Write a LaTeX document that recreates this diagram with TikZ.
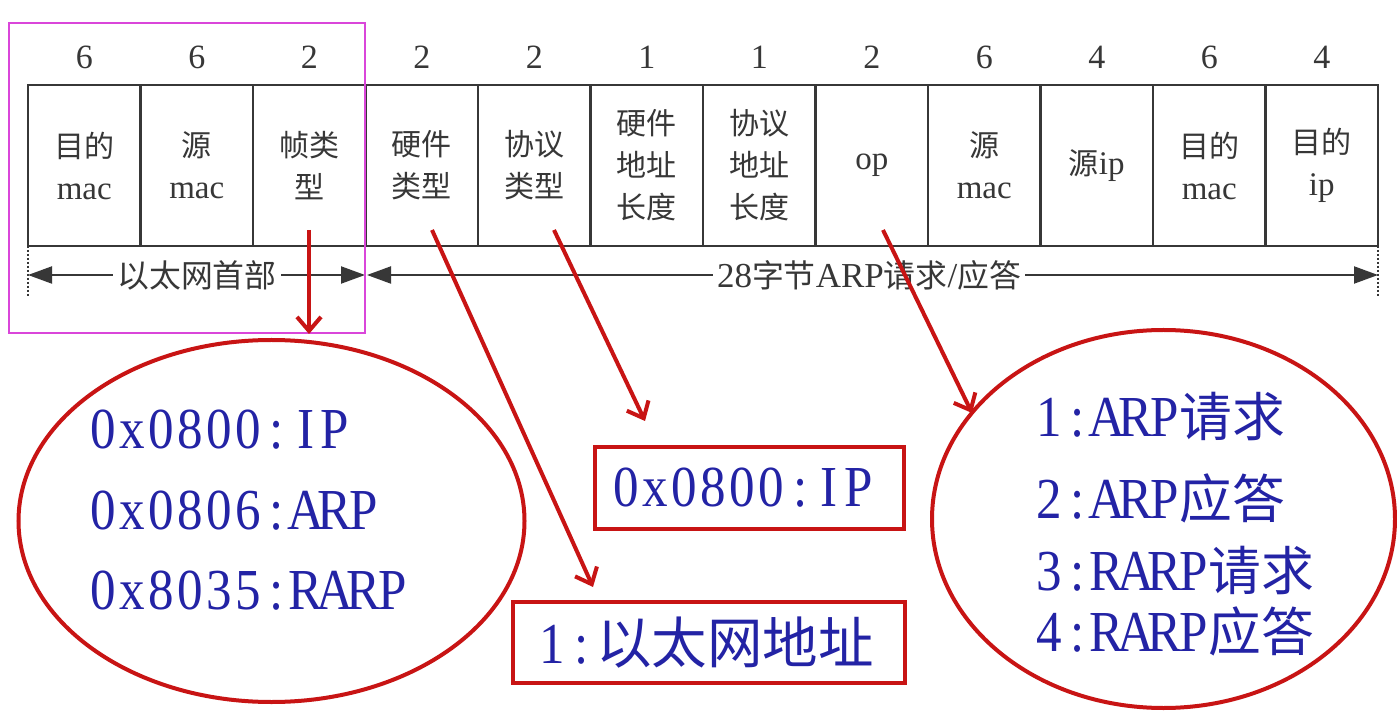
\documentclass[tikz,border=0pt]{standalone}
\usepackage{fontspec}
\setmainfont{Liberation Serif}
\newfontfamily\cjk{Noto Sans CJK SC}[Scale=0.91]
\newfontfamily\bluefont{Liberation Serif}[FakeStretch=0.88]
\usetikzlibrary{arrows.meta,shapes.geometric}
\definecolor{tblgray}{RGB}{55,55,55}
\definecolor{arpred}{RGB}{200,20,20}
\definecolor{arpblue}{RGB}{35,35,165}
\definecolor{boxmag}{RGB}{218,70,218}
\newcommand{\zh}[1]{{\cjk #1}}
\newcommand{\zhb}[1]{{\cjk\fontsize{30.5}{32}\selectfont #1}}
\makeatletter
\def\hw#1{\hw@i#1\@nil}
\def\hw@i#1{\ifx#1\@nil\else\makebox[14.5pt]{#1}\expandafter\hw@i\fi}
\makeatother
\begin{document}
\begin{tikzpicture}[x=0.5pt,y=-0.5pt,
  cell/.style={draw=tblgray, line width=1.1pt, minimum width=56.25pt, minimum height=80.5pt,
    inner sep=0pt, align=center, text=tblgray, font=\fontsize{16.5}{21}\selectfont},
  num/.style={text=tblgray, font=\fontsize{17}{20}\selectfont, inner sep=0pt},
  span/.style={line width=1pt, draw=tblgray,
    {Triangle[length=12pt,width=8.5pt]}-{Triangle[length=12pt,width=8.5pt]}},
  spanlabel/.style={fill=white, inner xsep=2pt, inner ysep=1pt, text=tblgray,
    font=\fontsize{17.5}{20}\selectfont},
  tick/.style={draw=tblgray, densely dotted, line width=1pt},
  redarrow/.style={draw=arpred, line width=2pt, -{Straight Barb[length=7pt,width=12pt]}},
  redbox/.style={draw=arpred, line width=2pt, inner sep=0pt, text=arpblue,
    font={\fontsize{29}{32}\bluefont}},
  redell/.style={ellipse, draw=arpred, line width=2pt, inner sep=0pt},
  bluetext/.style={text=arpblue, font={\fontsize{29}{32}\bluefont}, inner sep=0pt, anchor=base west},
]
\fill[white] (0,0) rectangle (1397,716);
\useasboundingbox (0,0) rectangle (1397,716);

% byte counts
\node[num] (n1)  at (84.25,57)  {6};
\node[num] (n2)  at (196.75,57) {6};
\node[num] (n3)  at (309.25,57) {2};
\node[num] (n4)  at (421.75,57) {2};
\node[num] (n5)  at (534.25,57) {2};
\node[num] (n6)  at (646.75,57) {1};
\node[num] (n7)  at (759.25,57) {1};
\node[num] (n8)  at (871.75,57) {2};
\node[num] (n9)  at (984.25,57) {6};
\node[num] (n10) at (1096.75,57) {4};
\node[num] (n11) at (1209.25,57) {6};
\node[num] (n12) at (1321.75,57) {4};

% fields
\node[cell] (c1)  at (84.25,165.5)  {\zh{目的}\\mac};
\node[cell] (c2)  at (196.75,165.5) {\zh{源}\\mac};
\node[cell] (c3)  at (309.25,165.5) {\zh{帧类}\\\zh{型}};
\node[cell] (c4)  at (421.75,165.5) {\zh{硬件}\\\zh{类型}};
\node[cell] (c5)  at (534.25,165.5) {\zh{协议}\\\zh{类型}};
\node[cell] (c6)  at (646.75,165.5) {\zh{硬件}\\\zh{地址}\\\zh{长度}};
\node[cell] (c7)  at (759.25,165.5) {\zh{协议}\\\zh{地址}\\\zh{长度}};
\node[cell] (c8)  at (871.75,165.5) {op};
\node[cell] (c9)  at (984.25,165.5) {\zh{源}\\mac};
\node[cell] (c10) at (1096.75,165.5) {\zh{源}ip};
\node[cell] (c11) at (1209.25,165.5) {\zh{目的}\\mac};
\node[cell] (c12) at (1321.75,165.5) {\zh{目的}\\ip};

% spans
\coordinate (hl)  at (28,275);
\coordinate (hm)  at (365,275);
\coordinate (hmr) at (367,275);
\coordinate (hr)  at (1378,275);
\draw[tick] (28,246) -- (28,297);
\draw[tick] (365,246) -- (365,300);
\draw[tick] (1378,246) -- (1378,297);
\draw[span] (hl) -- (hm);
\draw[span] (hmr) -- (hr);
\node[spanlabel] (eth) at (197,275) {\zh{以太网首部}};
\node[spanlabel] (arp) at (869,275) {28\zh{字节}ARP\zh{请求}/\zh{应答}};

% highlight box
\node[draw=boxmag, line width=1.4pt, minimum width=178pt, minimum height=155pt, inner sep=0pt]
  (ethbox) at (187,178) {};

% explanations
\node[redell, minimum width=253pt, minimum height=181pt] (frameell) at (271.5,521) {};
\node[bluetext] (ft1) at (88,449) {\hw{0x0800:IP}};
\node[bluetext] (ft2) at (88,529) {\hw{0x0806:ARP}};
\node[bluetext] (ft3) at (88,609) {\hw{0x8035:RARP}};

\node[redbox, minimum width=154.5pt, minimum height=41pt] (pbox) at (749.5,488) {\hw{0x0800:IP}\hspace*{7pt}};
\node[redbox, minimum width=196pt, minimum height=40.5pt] (hbox) at (709,642.5) {\hw{1:}\zhb{以太网地址}\hspace*{3pt}};

\node[redell, minimum width=231.5pt, minimum height=189pt] (opell) at (1163.5,519) {};
\node[bluetext] (o1) at (1034,437) {\hw{1:ARP}\zh{请求}};
\node[bluetext] (o2) at (1034,518) {\hw{2:ARP}\zh{应答}};
\node[bluetext] (o3) at (1034,590) {\hw{3:RARP}\zh{请求}};
\node[bluetext] (o4) at (1034,651) {\hw{4:RARP}\zh{应答}};

% arrows
\coordinate (a1s) at (309,230); \coordinate (a1e) at (309,334);
\coordinate (a2s) at (432,230); \coordinate (a2e) at (593,587);
\coordinate (a3s) at (554,230); \coordinate (a3e) at (645,421);
\coordinate (a4s) at (883,230); \coordinate (a4e) at (972,413);
\draw[redarrow] (a1s) -- (a1e);
\draw[redarrow] (a2s) -- (a2e);
\draw[redarrow] (a3s) -- (a3e);
\draw[redarrow] (a4s) -- (a4e);
\end{tikzpicture}
\end{document}
